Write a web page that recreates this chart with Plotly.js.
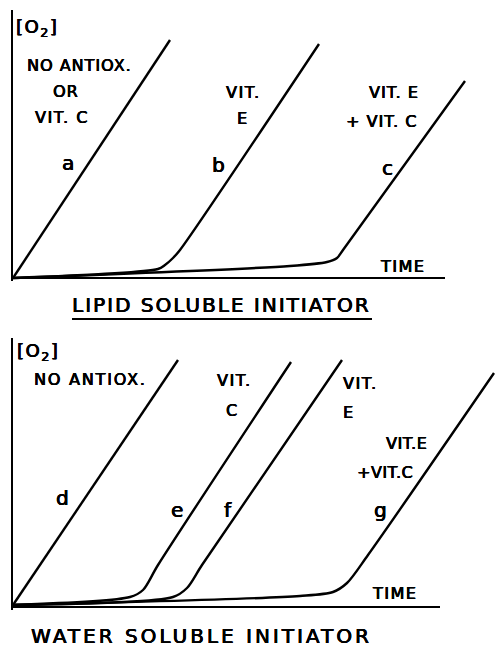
<!DOCTYPE html>
<html><head><meta charset="utf-8">
<script src="https://cdn.plot.ly/plotly-3.0.1.min.js"></script>
<style>html,body{margin:0;padding:0;background:#fff}#chart{width:495px;height:657px}</style>
</head><body><div id="chart"></div>
<script>
// ---- Panel 1: lipid soluble initiator (time vs [O2], arbitrary units) ----
const curveNames1 = ["a", "b", "c"];
const time_a = [0, 15.7];
const o2_a   = [0, 23.8];
const time_b = [0, 14.5, 15.2, 16.0, 16.7, 30.6];
const o2_b   = [0, 0.9, 1.3, 2.0, 2.8, 23.4];
const time_c = [0, 27.7, 31.4, 32.4, 33.0, 45.2];
const o2_c   = [0, 1.2, 1.6, 2.0, 2.8, 19.7];

// ---- Panel 2: water soluble initiator ----
const curveNames2 = ["d", "e", "f", "g"];
const time_d = [0, 16.5];
const o2_d   = [0.2, 24.7];
const time_e = [0, 11.7, 13.0, 14.5, 27.8];
const o2_e   = [0.2, 1.0, 1.7, 4.2, 24.5];
const time_f = [0, 16.0, 17.4, 18.9, 32.9];
const o2_f   = [0.2, 1.0, 1.9, 4.2, 24.7];
const time_g = [0, 28.7, 32.0, 33.4, 35.5, 48.1];
const o2_g   = [0.2, 1.1, 1.5, 2.4, 5.2, 23.4];

// ---- Texts ----
const yLabel = "[O<sub>2</sub>]";
const xLabel = "TIME";
const conditions1 = ["NO ANTIOX.", "OR", "VIT. C", "VIT.", "E", "VIT. E", "+ VIT. C"];
const conditions2 = ["NO ANTIOX.", "VIT.", "C", "VIT.", "E", "VIT.E", "+VIT.C"];
const panelTitles = ["LIPID SOLUBLE INITIATOR", "WATER SOLUBLE INITIATOR"];

const FONT = "DejaVu Sans, Liberation Sans, sans-serif";
const THICK = "0.45px 0 0 #000, -0.2px 0 0 #000, 0 0.3px 0 #000";
const LW = 2.4;

function tr(x, y, xa, ya, name) {
  return {x: x, y: y, xaxis: xa, yaxis: ya, name: name, type: "scatter", mode: "lines",
          line: {color: "#000", width: LW, shape: "spline", smoothing: 0.8},
          hoverinfo: "skip", showlegend: false};
}
const data = [
  tr(time_a, o2_a, "x", "y", curveNames1[0]),
  tr(time_b, o2_b, "x", "y", curveNames1[1]),
  tr(time_c, o2_c, "x", "y", curveNames1[2]),
  tr(time_d, o2_d, "x2", "y2", curveNames2[0]),
  tr(time_e, o2_e, "x2", "y2", curveNames2[1]),
  tr(time_f, o2_f, "x2", "y2", curveNames2[2]),
  tr(time_g, o2_g, "x2", "y2", curveNames2[3])
];

function sp(t, ls) { return ls ? '<span style="letter-spacing:' + ls + 'px">' + t + '</span>' : t; }
function ann(text, x, y, xr, yr, size, ls, xanchor) {
  return {text: sp(text, ls), x: x, y: y, xref: xr, yref: yr, showarrow: false,
          xanchor: xanchor || "center", yanchor: "middle",
          font: {family: FONT, size: size, color: "#000", shadow: THICK}};
}
const S = 16, L = 20;
const annotations = [
  // top panel
  ann(yLabel, 0.1, 25.0, "x", "y", 18, 1.5, "left"),
  ann(conditions1[0], 6.6, 21.2, "x", "y", S, 1),
  ann(conditions1[1], 5.3, 18.6, "x", "y", S, 1),
  ann(conditions1[2], 4.9, 16.0, "x", "y", S, 1.5),
  ann(curveNames1[0], 5.5, 11.5, "x", "y", L, 0),
  ann(conditions1[3], 23.0, 18.5, "x", "y", S, 1.5),
  ann(conditions1[4], 22.9, 15.9, "x", "y", S, 0),
  ann(curveNames1[1], 20.5, 11.3, "x", "y", L, 0),
  ann(conditions1[5], 38.1, 18.5, "x", "y", S, 1),
  ann(conditions1[6], 36.8, 15.6, "x", "y", S, 1),
  ann(curveNames1[2], 37.4, 11.0, "x", "y", L, 0),
  ann(xLabel, 38.9, 1.1, "x", "y", S, 1.5),
  // bottom panel
  ann(yLabel, 0.2, 25.5, "x2", "y2", 18, 1.5, "left"),
  ann(conditions2[0], 7.7, 22.8, "x2", "y2", S, 1.8),
  ann(conditions2[1], 22.1, 22.7, "x2", "y2", S, 1.5),
  ann(conditions2[2], 21.8, 19.7, "x2", "y2", S, 0),
  ann(curveNames2[0], 4.9, 10.9, "x2", "y2", L, 0),
  ann(curveNames2[1], 16.4, 9.7, "x2", "y2", L, 0),
  ann(curveNames2[2], 21.5, 9.7, "x2", "y2", L, 0),
  ann(conditions2[3], 34.7, 22.4, "x2", "y2", S, 1.5),
  ann(conditions2[4], 33.5, 19.5, "x2", "y2", S, 0),
  ann(conditions2[5], 39.3, 16.4, "x2", "y2", S, 0.5),
  ann(conditions2[6], 37.2, 13.5, "x2", "y2", S, 0.5),
  ann(curveNames2[3], 36.7, 9.7, "x2", "y2", L, 0),
  ann(xLabel, 38.1, 1.4, "x2", "y2", S, 1.5),
  // panel titles
  ann(panelTitles[0], 0.4336, 0.5365, "paper", "paper", 20, 2),
  ann(panelTitles[1], 0.3911, 0.0320, "paper", "paper", 20, 3)
];

const shapes = [
  {type: "line", xref: "x", yref: "y", x0: 0, x1: 43.2, y0: 0, y1: 0, line: {color: "#000", width: 2}},
  {type: "line", xref: "x2", yref: "y2", x0: 0, x1: 42.7, y0: 0, y1: 0, line: {color: "#000", width: 2}},
  {type: "line", xref: "paper", yref: "paper", x0: 0.1224, x1: 0.7448, y0: 0.5145, y1: 0.5145, line: {color: "#000", width: 2}}
];

function xax() { return {range: [0, 48.2], domain: [0, 1], showgrid: false, zeroline: false,
  showticklabels: false, ticks: "", showline: false, fixedrange: true}; }
function yax(r, d, anchor) { return {range: r, domain: d, anchor: anchor, showgrid: false, zeroline: false,
  showticklabels: false, ticks: "", showline: true, linecolor: "#000", linewidth: 2, fixedrange: true}; }

const layout = {
  width: 495, height: 657,
  margin: {l: 13, r: 0, t: 0, b: 0},
  paper_bgcolor: "#fff", plot_bgcolor: "rgba(0,0,0,0)",
  showlegend: false,
  xaxis: Object.assign(xax(), {anchor: "y"}),
  yaxis: yax([-0.3, 26.8], [0.57230, 0.98478], "x"),
  xaxis2: Object.assign(xax(), {anchor: "y2"}),
  yaxis2: yax([-0.3, 26.9], [0.07154, 0.48554], "x2"),
  annotations: annotations,
  shapes: shapes
};

Plotly.newPlot("chart", data, layout, {staticPlot: true, displayModeBar: false});
</script>
</body></html>
